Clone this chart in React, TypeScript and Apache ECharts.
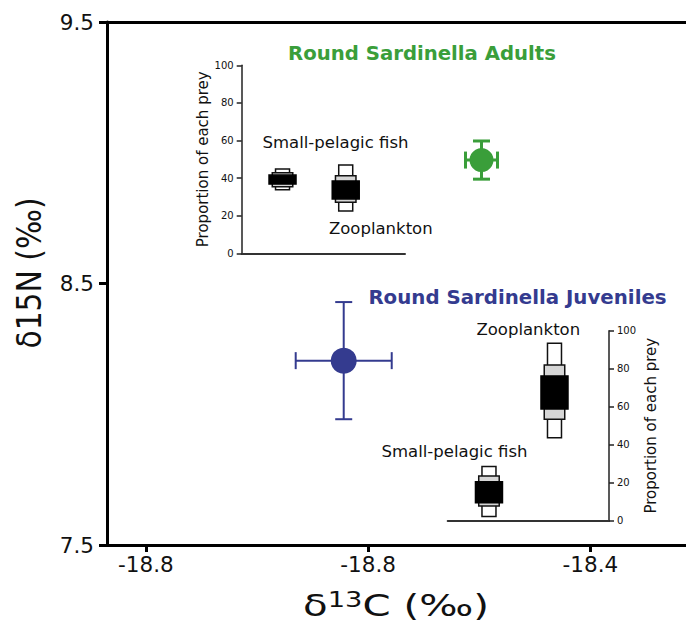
import React, { useEffect, useRef } from 'react';
import * as echarts from 'echarts';

// ---- main isotope plot ----
const xTickValues = [-18.8, -18.6, -18.4];
const xTickLabels = ['-18.8', '-18.8', '-18.4'];
const yTickValues = [7.5, 8.5, 9.5];

const groupNames = ['Round Sardinella Adults', 'Round Sardinella Juveniles'];
const groupC = [-18.498, -18.622];
const groupN = [8.972, 8.205];
const groupCErr = [0.0144, 0.0432];
const groupNErr = [0.073, 0.224];

// ---- diet proportions (credible intervals, %) ----
const preyNames = ['Small-pelagic fish', 'Zooplankton'];
const adultsCI95 = [[33.8, 44.8], [22.5, 47.0]];
const adultsCI75 = [[35.4, 42.8], [27.1, 41.3]];
const adultsCI50 = [[36.8, 41.6], [28.9, 38.5]];
const juvenilesCI95 = [[2.2, 28.5], [43.7, 93.4]];
const juvenilesCI75 = [[7.8, 23.5], [53.4, 81.9]];
const juvenilesCI50 = [[9.5, 20.5], [58.8, 76.2]];
const proportionTicks = [0, 20, 40, 60, 80, 100];

const FONT = '"DejaVu Sans", Verdana, sans-serif';
const GREEN = '#3a9e3a';
const BLUE = '#343b8f';
const INK = '#111';

function boxData(ci95: number[][], ci75: number[][], ci50: number[][]) {
  return preyNames.map((_, i) => [i, ci95[i][0], ci95[i][1], ci75[i][0], ci75[i][1], ci50[i][0], ci50[i][1]]);
}

const boxRender = (_params: any, api: any) => {
  const i = api.value(0);
  const rects: any[] = [];
  const specs = [
    { lo: 1, hi: 2, w: 14, fill: '#ffffff', stroke: INK },
    { lo: 3, hi: 4, w: 20.5, fill: '#d6d6d6', stroke: INK },
    { lo: 5, hi: 6, w: 27, fill: '#000000', stroke: '#000000' },
  ];
  for (const s of specs) {
    const pLo = api.coord([i, api.value(s.lo)]);
    const pHi = api.coord([i, api.value(s.hi)]);
    rects.push({
      type: 'rect',
      shape: { x: pLo[0] - s.w / 2, y: pHi[1], width: s.w, height: pLo[1] - pHi[1] },
      style: { fill: s.fill, stroke: s.stroke, lineWidth: 1.5 },
    });
  }
  return { type: 'group', children: rects };
};

function errRender(color: string, lw: number) {
  return (_params: any, api: any) => {
    const x = api.value(0), y = api.value(1), ex = api.value(2), ey = api.value(3);
    const l = api.coord([x - ex, y]);
    const r = api.coord([x + ex, y]);
    const t = api.coord([x, y + ey]);
    const b = api.coord([x, y - ey]);
    const cap = 8.5;
    const st = { stroke: color, lineWidth: lw };
    const ln = (x1: number, y1: number, x2: number, y2: number) => ({ type: 'line', shape: { x1, y1, x2, y2 }, style: st });
    return {
      type: 'group',
      children: [
        ln(l[0], l[1], r[0], r[1]),
        ln(t[0], t[1], b[0], b[1]),
        ln(l[0], l[1] - cap, l[0], l[1] + cap),
        ln(r[0], r[1] - cap, r[0], r[1] + cap),
        ln(t[0] - cap, t[1], t[0] + cap, t[1]),
        ln(b[0] - cap, b[1], b[0] + cap, b[1]),
      ],
    };
  };
}

export default function App() {
  const ref = useRef<HTMLDivElement>(null);
  useEffect(() => {
    document.body.style.margin = '0';
    const chart = echarts.init(ref.current!, null, { renderer: 'svg' });
    const insetAxisLine = { show: true, lineStyle: { color: '#222', width: 1.5 } };
    const option: any = {
      animation: false,
      backgroundColor: '#fff',
      grid: [
        { left: 107, top: 22, width: 579, height: 523 },
        { left: 241.7, top: 65.3, width: 163.3, height: 188 },
        { left: 447.7, top: 330.7, width: 161.3, height: 190 },
      ],
      xAxis: [
        {
          gridIndex: 0, type: 'value', min: -18.835, max: -18.314, position: 'bottom',
          axisLine: { show: true, onZero: false, lineStyle: { color: '#000', width: 3 } },
          axisTick: { show: true, customValues: xTickValues, length: 7, lineStyle: { color: '#000', width: 3 } },
          axisLabel: {
            customValues: xTickValues, margin: 8, fontSize: 21.5, fontFamily: FONT, color: INK,
            formatter: (v: number) => {
              const k = xTickValues.findIndex((t) => Math.abs(t - v) < 1e-6);
              return k >= 0 ? xTickLabels[k] : '';
            },
          },
          splitLine: { show: false },
        },
        {
          gridIndex: 0, type: 'value', min: -18.835, max: -18.314, position: 'top',
          axisLine: { show: true, onZero: false, lineStyle: { color: '#000', width: 3 } },
          axisTick: { show: false }, axisLabel: { show: false }, splitLine: { show: false },
        },
        {
          gridIndex: 1, type: 'value', min: -0.646, max: 1.938,
          axisLine: { ...insetAxisLine, onZero: false, lineStyle: { color: '#333', width: 2 } },
          axisTick: { show: false }, axisLabel: { show: false }, splitLine: { show: false },
        },
        {
          gridIndex: 2, type: 'value', min: -0.63, max: 1.832,
          axisLine: { ...insetAxisLine, onZero: false, lineStyle: { color: '#333', width: 2 } },
          axisTick: { show: false }, axisLabel: { show: false }, splitLine: { show: false },
        },
      ],
      yAxis: [
        {
          gridIndex: 0, type: 'value', min: 7.5, max: 9.5,
          axisLine: { show: true, onZero: false, lineStyle: { color: '#000', width: 3 } },
          axisTick: { show: true, customValues: yTickValues, length: 8, lineStyle: { color: '#000', width: 3 } },
          axisLabel: {
            customValues: yTickValues, margin: 13, fontSize: 21.5, fontFamily: FONT, color: INK,
            formatter: (v: number) => v.toFixed(1),
          },
          splitLine: { show: false },
        },
        {
          gridIndex: 1, type: 'value', min: 0, max: 100, interval: 20, position: 'left',
          axisLine: { ...insetAxisLine, onZero: false },
          axisTick: { show: true, customValues: proportionTicks, length: 5, lineStyle: { color: '#222', width: 1.5 } },
          axisLabel: { customValues: proportionTicks, margin: 8, fontSize: 10, fontFamily: FONT, color: INK },
          splitLine: { show: false },
          name: 'Proportion of each prey', nameLocation: 'middle', nameRotate: 90, nameGap: 30,
          nameTextStyle: { fontSize: 15, fontFamily: FONT, color: INK },
        },
        {
          gridIndex: 2, type: 'value', min: 0, max: 100, interval: 20, position: 'right',
          axisLine: { ...insetAxisLine, onZero: false },
          axisTick: { show: true, customValues: proportionTicks, length: 5, lineStyle: { color: '#222', width: 1.5 } },
          axisLabel: { customValues: proportionTicks, margin: 8, fontSize: 10, fontFamily: FONT, color: INK },
          splitLine: { show: false },
          name: 'Proportion of each prey', nameLocation: 'middle', nameRotate: 90, nameGap: 34,
          nameTextStyle: { fontSize: 15, fontFamily: FONT, color: INK },
        },
      ],
      series: [
        {
          type: 'custom', name: groupNames[0] + ' error', xAxisIndex: 0, yAxisIndex: 0, z: 2,
          renderItem: errRender(GREEN, 3),
          data: [[groupC[0], groupN[0], groupCErr[0], groupNErr[0]]],
        },
        {
          type: 'custom', name: groupNames[1] + ' error', xAxisIndex: 0, yAxisIndex: 0, z: 2,
          renderItem: errRender(BLUE, 2),
          data: [[groupC[1], groupN[1], groupCErr[1], groupNErr[1]]],
        },
        {
          type: 'scatter', name: groupNames[0], xAxisIndex: 0, yAxisIndex: 0, z: 3,
          symbolSize: 24, itemStyle: { color: GREEN, opacity: 1 },
          data: [[groupC[0], groupN[0]]],
        },
        {
          type: 'scatter', name: groupNames[1], xAxisIndex: 0, yAxisIndex: 0, z: 3,
          symbolSize: 26, itemStyle: { color: BLUE, opacity: 1 },
          data: [[groupC[1], groupN[1]]],
        },
        {
          type: 'custom', name: 'Adults diet', xAxisIndex: 2, yAxisIndex: 1,
          renderItem: boxRender, data: boxData(adultsCI95, adultsCI75, adultsCI50),
        },
        {
          type: 'custom', name: 'Juveniles diet', xAxisIndex: 3, yAxisIndex: 2,
          renderItem: boxRender, data: boxData(juvenilesCI95, juvenilesCI75, juvenilesCI50),
        },
      ],
      graphic: [
        {
          type: 'text', x: 29, y: 273, rotation: Math.PI / 2, scaleX: 0.877,
          style: { text: 'δ15N (‰)', font: `34px ${FONT}`, fill: INK, textAlign: 'center', textVerticalAlign: 'middle' },
        },
        {
          type: 'text', x: 396, y: 605, scaleX: 1.3,
          style: {
            text: '{a|δ}{s|13}{a|C (‰)}', fill: INK, textAlign: 'center', textVerticalAlign: 'middle',
            font: `31px ${FONT}`,
            rich: {
              a: { fontSize: 31, fontFamily: FONT, fill: INK },
              s: { fontSize: 21, fontFamily: FONT, fill: INK, verticalAlign: 'top' },
            },
          },
        },
        {
          type: 'text', x: 422, y: 53,
          style: { text: groupNames[0], font: `bold 19.7px ${FONT}`, fill: GREEN, textAlign: 'center', textVerticalAlign: 'middle' },
        },
        {
          type: 'text', x: 517.5, y: 297,
          style: { text: groupNames[1], font: `bold 19.8px ${FONT}`, fill: BLUE, textAlign: 'center', textVerticalAlign: 'middle' },
        },
        {
          type: 'text', x: 335.5, y: 142,
          style: { text: preyNames[0], font: `16.5px ${FONT}`, fill: INK, textAlign: 'center', textVerticalAlign: 'middle' },
        },
        {
          type: 'text', x: 380.8, y: 228,
          style: { text: preyNames[1], font: `16.5px ${FONT}`, fill: INK, textAlign: 'center', textVerticalAlign: 'middle' },
        },
        {
          type: 'text', x: 528.3, y: 329,
          style: { text: preyNames[1], font: `16.5px ${FONT}`, fill: INK, textAlign: 'center', textVerticalAlign: 'middle' },
        },
        {
          type: 'text', x: 454.5, y: 451,
          style: { text: preyNames[0], font: `16.5px ${FONT}`, fill: INK, textAlign: 'center', textVerticalAlign: 'middle' },
        },
      ],
    };
    chart.setOption(option);
    return () => chart.dispose();
  }, []);
  return <div ref={ref} style={{ width: 686, height: 623 }} />;
}
